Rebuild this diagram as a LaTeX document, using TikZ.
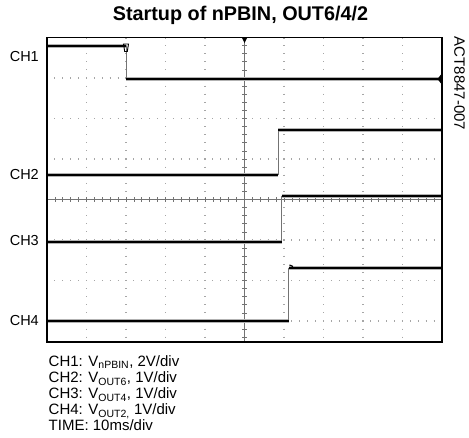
\documentclass[tikz,border=0pt]{standalone}
\usepackage{fontspec}
\setmainfont{Liberation Sans}
\begin{document}
\begin{tikzpicture}[x=1pt,y=-1pt,
  vgrid/.style={gray!70, line width=1.1pt, dash pattern=on 1.1pt off 7pt, dash phase=0.55pt},
  hgrid/.style={gray!70, line width=1.1pt, dash pattern=on 1.1pt off 6.8pt, dash phase=0.55pt},
  axisline/.style={black!55, line width=0.8pt},
  halo/.style={black!30, line width=4pt},
  trace/.style={black, line width=2pt},
  edge/.style={black!55, line width=0.8pt},
  chlabel/.style={font=\fontsize{14.5}{16}\selectfont, inner sep=0pt, anchor=east},
  legend/.style={font=\fontsize{15}{16}\selectfont, inner sep=0pt, anchor=base west},
  frame/.style={black, line width=1.8pt}
]
\useasboundingbox (0,0) rectangle (469,437);

% title
\node[font=\bfseries\fontsize{19.8}{22}\selectfont, inner sep=0pt, anchor=base] (title) at (240.5,20.7) {Startup of nPBIN, OUT6/4/2};

% side label
\node[font=\fontsize{15}{16}\selectfont, inner sep=0pt, rotate=-90] (code) at (459.5,83.5) {ACT8847-007};

% grid
\foreach \x in {86.5,126,165.5,205,284,323.5,363,402.5}
  \draw[vgrid] (\x,37.5) -- (\x,342);
\foreach \y in {78,118.5,159,240,280.5,321}
  \draw[hgrid] (47,\y) -- (442,\y);

% center axes with ticks
\draw[axisline] (47,199.5) -- (442,199.5);
\draw[axisline] (244.5,37.5) -- (244.5,342);
\foreach \i in {1,...,49}
  \draw[axisline] ({47+7.9*\i},197) -- ({47+7.9*\i},202);
\foreach \i in {1,...,37}
  \draw[axisline] (242,{37.5+8.1*\i}) -- (247,{37.5+8.1*\i});

% traces halo
\draw[halo] (47.5,45.5) -- (126,45.5);
\draw[halo] (126,79) -- (441,79);
\draw[halo] (47.5,174.5) -- (278,174.5);
\draw[halo] (278,130) -- (441,130);
\draw[halo] (47.5,241.5) -- (281.5,241.5);
\draw[halo] (281.5,196) -- (441,196);
\draw[halo] (47.5,321) -- (288.5,321);
\draw[halo] (288.5,267.5) -- (441,267.5);

% edges
\draw[edge] (126,45.5) -- (126,79);
\draw[edge] (278,174.5) -- (278,130);
\draw[edge] (281.5,241.5) -- (281.5,196);
\draw[edge] (288.5,321) -- (288.5,267.5);

% traces
\draw[trace] (47.5,45.5) -- (126,45.5);
\draw[trace] (126,79) -- (441,79);
\draw[trace] (47.5,174.5) -- (278,174.5);
\draw[trace] (278,130) -- (441,130);
\draw[trace] (47.5,241.5) -- (281.5,241.5);
\draw[trace] (281.5,196) -- (441,196);
\draw[trace] (47.5,321) -- (288.5,321);
\draw[trace] (288.5,267.5) -- (441,267.5);
\draw[black, line width=1.2pt] (289.5,265) -- (293,266.5);

% markers
\fill[black] (242,38) -- (247,38) -- (244.5,43) -- cycle;
\draw[black, line width=0.9pt] (123.5,44) -- (128.5,44) -- (127.3,51.5) -- (124.7,51.5) -- cycle;
\fill[black] (437.5,79) -- (441,74.5) -- (441,83.5) -- cycle;

% frame
\draw[frame] (47,37.5) rectangle (442,342);

% channel labels
\node[chlabel] (ch1) at (39,56.5) {CH1};
\node[chlabel] (ch2) at (39,174.5) {CH2};
\node[chlabel] (ch3) at (39,240.5) {CH3};
\node[chlabel] (ch4) at (39,321) {CH4};

% legend
\node[legend] (l1) at (48.5,366.7) {CH1: V\textsubscript{nPBIN}, 2V/div};
\node[legend] (l2) at (48.5,382.7) {CH2: V\textsubscript{OUT6}, 1V/div};
\node[legend] (l3) at (48.5,398.7) {CH3: V\textsubscript{OUT4}, 1V/div};
\node[legend] (l4) at (48.5,414.7) {CH4: V\textsubscript{OUT2,} 1V/div};
\node[legend] (l5) at (48.5,430.7) {TIME: 10ms/div};
\end{tikzpicture}
\end{document}
